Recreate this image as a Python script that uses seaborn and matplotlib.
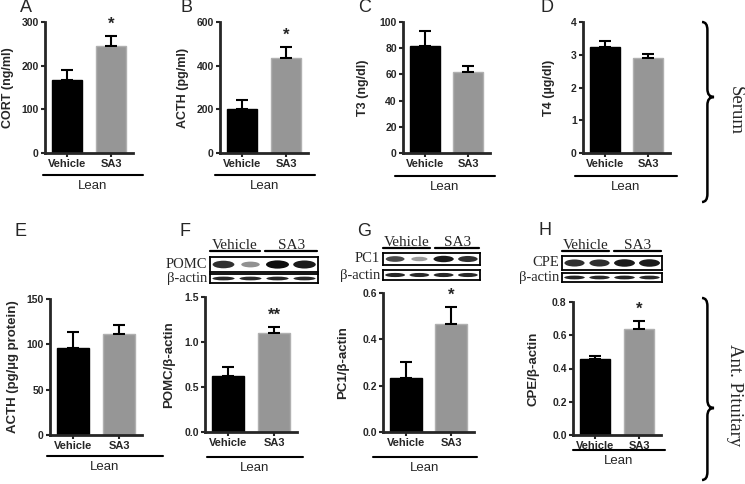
import matplotlib
matplotlib.use("Agg")
import matplotlib.pyplot as plt
import seaborn as sns
import numpy as np
from matplotlib.path import Path
from matplotlib.patches import PathPatch, Ellipse
from matplotlib.lines import Line2D

W, H = 745, 484

groups = ["Vehicle", "SA3"]

# serum
cort = [168, 246]
cort_sem = [22, 23]
acth_serum = [203, 433]
acth_serum_sem = [40, 52]
t3 = [82, 62]
t3_sem = [11, 4.5]
t4 = [3.23, 2.91]
t4_sem = [0.2, 0.12]

# anterior pituitary
acth_pit = [95.5, 111]
acth_pit_sem = [18.5, 10.5]
pomc = [0.62, 1.10]
pomc_sem = [0.10, 0.07]
pc1 = [0.235, 0.467]
pc1_sem = [0.067, 0.072]
cpe = [0.46, 0.635]
cpe_sem = [0.015, 0.053]

stars = ["*", "*", "", "", "", "**", "*", "*"]

# western blot band strengths (lanes: veh, veh, SA3, SA3)
pomc_band = [0.85, 0.45, 1.0, 0.95]
pc1_band = [0.75, 0.4, 0.95, 0.85]
cpe_band = [0.85, 0.85, 0.95, 0.95]
actin_band = [0.9, 0.88, 0.9, 0.88]

sns.set_style("ticks")
plt.rcParams["font.family"] = ["Liberation Sans", "DejaVu Sans"]
SERIF = ["Liberation Serif", "DejaVu Serif"]

fig = plt.figure(figsize=(W / 100, H / 100), dpi=100)


def rect(x0, y0, x1, y1):
    return [x0 / W, 1 - y1 / H, (x1 - x0) / W, (y1 - y0) / H]


def ftext(x, y, s, **kw):
    fig.text(x / W, 1 - y / H, s, **kw)


def fline(x0, x1, y, lw=1.5):
    fig.add_artist(Line2D([x0 / W, x1 / W], [1 - y / H, 1 - y / H],
                          color="black", lw=lw, transform=fig.transFigure))


panels = [
    # letter, values, sem, ylabel, ticks, fmt, axes px, label x, lean line, letter pos
    ("A", cort, cort_sem, "CORT (ng/ml)", [0, 100, 200, 300], "%d", (45, 22, 133, 153), 8, (43, 143, 175), (26, 8)),
    ("B", acth_serum, acth_serum_sem, "ACTH (pg/ml)", [0, 200, 400, 600], "%d", (220, 22, 308, 153), 183, (215, 315, 175), (186, 8)),
    ("C", t3, t3_sem, "T3 (ng/dl)", [0, 20, 40, 60, 80, 100], "%d", (403, 22, 490, 153), 363, (395, 495, 176), (365, 8)),
    ("D", t4, t4_sem, "T4 (\u00b5g/dl)", [0, 1, 2, 3, 4], "%d", (583, 22, 670, 153), 549, (575, 677, 176), (547, 8)),
    ("E", acth_pit, acth_pit_sem, "ACTH (pg/\u00b5g protein)", [0, 50, 100, 150], "%d", (50, 299, 142, 435), 13, (47, 163, 456), (20, 232)),
    ("F", pomc, pomc_sem, "POMC/\u03b2-actin", [0.0, 0.5, 1.0, 1.5], "%.1f", (205, 297, 297, 432), 169, (207, 303, 457), (185, 232)),
    ("G", pc1, pc1_sem, "PC1/\u03b2-actin", [0.0, 0.2, 0.4, 0.6], "%.1f", (383, 293, 474, 432), 343, (373, 477, 457), (364, 231)),
    ("H", cpe, cpe_sem, "CPE/\u03b2-actin", [0.0, 0.2, 0.4, 0.6, 0.8], "%.1f", (573, 302, 661, 435), 533, (573, 665, 450), (545, 230)),
]

for i, (letter, vals, sem, ylab, ticks, fmt, box, lx, lean, lpos) in enumerate(panels):
    x0, y0, x1, y1 = box
    ax = fig.add_axes(rect(x0, y0, x1, y1))
    sns.barplot(x=groups, y=vals, hue=groups, palette=["black", "#969696"],
                width=0.7, saturation=1, legend=False, errorbar=None, ax=ax,
                linewidth=1)
    for p, ec in zip(ax.patches, ["black", "#b0b0b0"]):
        p.set_edgecolor(ec)
    ax.errorbar([0, 1], vals, yerr=[[0, 0], sem], fmt="none", ecolor="black",
                elinewidth=1.5, capsize=4.5, capthick=1.5, zorder=1)
    ax.set_xlim(-0.5, 1.5)
    ax.set_ylim(ticks[0], ticks[-1])
    ax.set_yticks(ticks)
    ax.set_yticklabels([fmt % t for t in ticks])
    sns.despine(ax=ax)
    for s in ["left", "bottom"]:
        ax.spines[s].set_linewidth(2)
    ax.tick_params(axis="both", length=3, width=1.5, pad=1.5)
    ax.tick_params(axis="y", labelsize=7.5)
    ax.tick_params(axis="x", labelsize=8)
    for t in ax.get_xticklabels() + ax.get_yticklabels():
        t.set_fontweight("bold")
    ax.set_xlabel("")
    fs = 9.5 if i >= 4 else 9
    ax.set_ylabel(ylab, fontsize=fs, fontweight="bold")
    ax.yaxis.label.set_va("center")
    ax.yaxis.set_label_coords((lx - x0) / (x1 - x0), 0.5)
    if stars[i]:
        ax.text(1, vals[1] + sem[1] + (ticks[-1] - ticks[0]) * 0.03, stars[i],
                ha="center", va="bottom", fontsize=12, fontweight="bold",
                clip_on=False)
    fline(lean[0], lean[1], lean[2])
    ftext((lean[0] + lean[1]) / 2, lean[2] + 11, "Lean", ha="center",
          va="center", fontsize=9.5)
    ftext(lpos[0], lpos[1], letter, ha="center", va="center", fontsize=13)


def blot(x0, x1, yt0, yt1, ya0, ya1, name, bands, lab_y, split):
    for (b0, b1, vals, hfrac, lab) in [(yt0, yt1, bands, 0.5, name),
                                        (ya0, ya1, actin_band, 0.4, "\u03b2-actin")]:
        ax = fig.add_axes(rect(x0, b0, x1, b1))
        ax.set_xlim(0, 4)
        ax.set_ylim(0, 1)
        ax.set_xticks([])
        ax.set_yticks([])
        for s in ax.spines.values():
            s.set_visible(True)
            s.set_linewidth(1.3)
            s.set_color("black")
        for k, v in enumerate(vals):
            ax.add_patch(Ellipse((k + 0.5, 0.5), 0.55 + 0.3 * v,
                                 hfrac * (0.5 + 0.6 * v),
                                 facecolor=str(round(1 - v * 0.95, 2)),
                                 edgecolor="none"))
        ftext(x0 - 3, (b0 + b1) / 2, lab, ha="right", va="center", fontsize=10.5,
              family=SERIF)
    mid = split
    ftext((x0 + mid - 2) / 2, lab_y, "Vehicle", ha="center", va="center",
          fontsize=11, family=SERIF)
    ftext((mid + 3 + x1) / 2, lab_y, "SA3", ha="center", va="center",
          fontsize=11, family=SERIF)
    fline(x0, mid - 2, lab_y + 6, lw=1.6)
    fline(mid + 3, x1 - 1, lab_y + 6, lw=1.6)


blot(210, 318, 257, 272, 274, 283, "POMC", pomc_band, 245, 262)
blot(383, 480, 253, 265, 270, 280, "PC1", pc1_band, 242, 432)
blot(562, 662, 256, 270, 273, 282, "CPE", cpe_band, 245, 611)


def brace(x0, y0, y1, ytip, w=12, r=8):
    xm = x0 + w * 0.45
    xt = x0 + w

    def P(x, y):
        return (x / W, 1 - y / H)

    verts = [P(x0, y0), P(xm, y0), P(xm, y0 + r),
             P(xm, ytip - r), P(xm, ytip), P(xt, ytip),
             P(xm, ytip), P(xm, ytip + r),
             P(xm, y1 - r), P(xm, y1), P(x0, y1)]
    codes = [Path.MOVETO, Path.CURVE3, Path.CURVE3,
             Path.LINETO, Path.CURVE3, Path.CURVE3,
             Path.CURVE3, Path.CURVE3,
             Path.LINETO, Path.CURVE3, Path.CURVE3]
    fig.add_artist(PathPatch(Path(verts, codes), facecolor="none",
                             edgecolor="black", lw=1.8,
                             transform=fig.transFigure))


brace(702, 22, 202, 97)
brace(702, 298, 480, 408)
ftext(735, 110, "Serum", rotation=-90, ha="center", va="center", fontsize=13.5,
      family=SERIF)
ftext(735, 395, "Ant. Pituitary", rotation=-90, ha="center", va="center",
      fontsize=13.5, family=SERIF)

fig.savefig("out.png", dpi=100)
